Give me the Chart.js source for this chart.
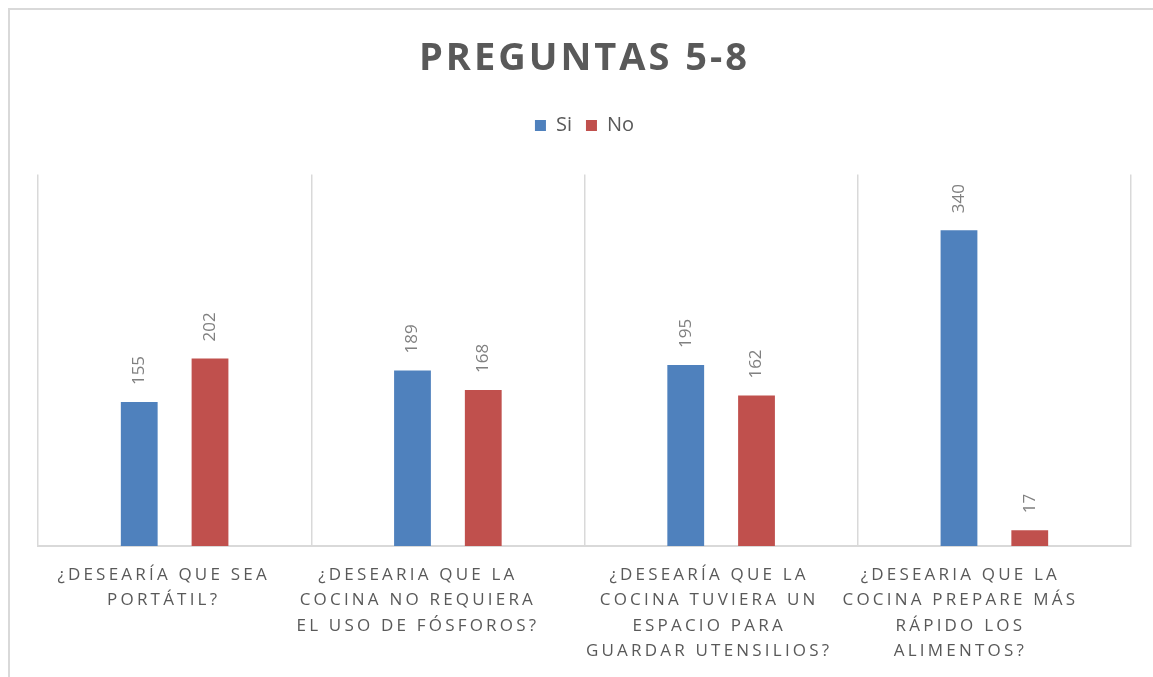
<!DOCTYPE html>
<html>
<head>
<meta charset="utf-8">
<script src="https://cdn.jsdelivr.net/npm/chart.js@4.4.1/dist/chart.umd.min.js"></script>
<style>
  html, body { margin: 0; padding: 0; background: #fff; overflow: hidden; }
  #frame { position: absolute; left: 8px; top: 8px; width: 2000px; height: 2000px;
           border-top: 2px solid #d9d9d9; border-left: 2px solid #d9d9d9; }
  #wrap { position: absolute; left: 0; top: 0; width: 1153px; height: 677px; }
</style>
</head>
<body>
<div id="frame"></div>
<div id="wrap"><canvas id="chart"></canvas></div>
<script>
// data
const categories = [
  ["¿DESEARÍA QUE SEA", "PORTÁTIL?"],
  ["¿DESEARIA QUE LA", "COCINA NO REQUIERA", "EL USO DE FÓSFOROS?"],
  ["¿DESEARÍA QUE LA", "COCINA TUVIERA UN", "ESPACIO PARA", "GUARDAR UTENSILIOS?"],
  ["¿DESEARIA QUE LA", "COCINA PREPARE MÁS", "RÁPIDO LOS", "ALIMENTOS?"]
];
const siValues = [155, 189, 195, 340];
const noValues = [202, 168, 162, 17];

const FONT = "'Open Sans', 'DejaVu Sans', sans-serif";
const GRAY = "#595959";
// the category labels in the original sit a little left of centre
const labelShift = [-11, -30, -12, -34];

// draws the rotated value above every bar
const barLabels = {
  id: "barLabels",
  afterDatasetsDraw(chart) {
    const ctx = chart.ctx;
    chart.data.datasets.forEach((ds, i) => {
      chart.getDatasetMeta(i).data.forEach((bar, j) => {
        ctx.save();
        ctx.translate(bar.x, bar.y - 17);
        ctx.rotate(-Math.PI / 2);
        ctx.font = "17px " + FONT;
        ctx.fillStyle = "#808080";
        ctx.textAlign = "left";
        ctx.textBaseline = "middle";
        ctx.fillText(ds.data[j], 0, 0);
        ctx.restore();
      });
    });
  }
};

// letter spacing for the title and category labels
function spaced(obj, method, amount) {
  if (!obj || obj["_sp_" + method]) return;
  const orig = obj[method];
  obj[method] = function () {
    const c = this.ctx;
    c.save();
    c.letterSpacing = amount;
    const r = orig.apply(this, arguments);
    c.restore();
    return r;
  };
  obj["_sp_" + method] = true;
}
const tweaks = {
  id: "tweaks",
  beforeLayout(chart) {
    const lg = chart.legend;
    if (lg && !lg._tall) {
      const fit = lg.fit;
      lg.fit = function () { fit.call(this); this.height += 29; };
      lg._tall = true;
    }
    const x = chart.scales.x;
    if (x && !x._shifted) {
      const comp = x._computeLabelItems;
      x._computeLabelItems = function (a) {
        const items = comp.call(this, a);
        items.forEach((it, i) => {
          const t = it.options.translation;
          it.options.translation = [t[0] + (labelShift[i] || 0), t[1]];
        });
        return items;
      };
      x._shifted = true;
    }
  },
  beforeDraw(chart) {
    spaced(chart.scales.x, "drawLabels", "3.2px");
    spaced(chart.titleBlock, "draw", "3px");
  }
};

new Chart(document.getElementById("chart"), {
  type: "bar",
  data: {
    labels: categories,
    datasets: [
      { label: "Si", data: siValues, backgroundColor: "#4F81BD",
        categoryPercentage: 0.518, barPercentage: 0.52 },
      { label: "No", data: noValues, backgroundColor: "#C0504D",
        categoryPercentage: 0.518, barPercentage: 0.52 }
    ]
  },
  options: {
    responsive: true,
    maintainAspectRatio: false,
    animation: false,
    layout: { padding: { left: 38, right: 22, top: 0, bottom: -3 } },
    plugins: {
      title: {
        display: true,
        text: "PREGUNTAS 5-8",
        color: GRAY,
        font: { family: FONT, size: 38, weight: "bold" },
        padding: { top: 36, bottom: 20 }
      },
      legend: {
        display: true,
        labels: {
          color: GRAY,
          boxWidth: 11,
          boxHeight: 11,
          padding: 14,
          font: { family: FONT, size: 20 }
        }
      },
      tooltip: { enabled: false }
    },
    scales: {
      x: {
        grid: { display: true, color: "#d9d9d9", lineWidth: 1.5, offset: true, drawTicks: false },
        border: { display: true, color: "#d9d9d9", width: 2 },
        ticks: {
          color: GRAY,
          padding: 16,
          maxRotation: 0,
          autoSkip: false,
          font: { family: FONT, size: 17, lineHeight: 1.5 }
        }
      },
      y: {
        display: false,
        min: 0,
        max: 400
      }
    }
  },
  plugins: [barLabels, tweaks]
});
</script>
</body>
</html>
